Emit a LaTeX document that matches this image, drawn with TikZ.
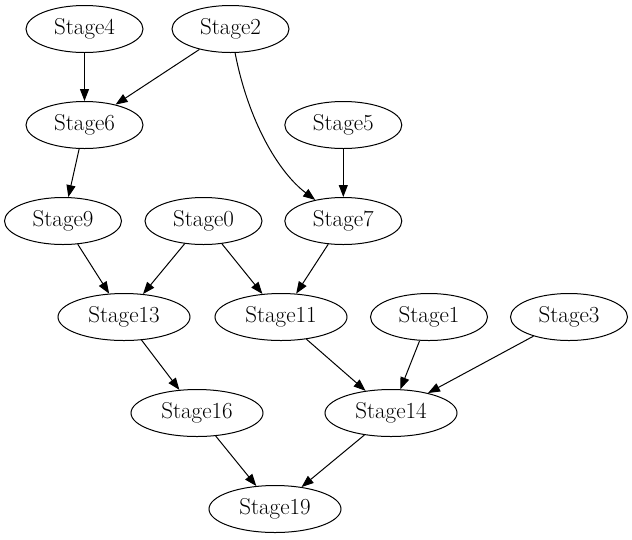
\documentclass[tikz,border=0pt]{standalone}
\usetikzlibrary{shapes.geometric,arrows.meta}
\begin{document}
\begin{tikzpicture}[x=1pt,y=-1pt,
  stagenode/.style={draw,ellipse,line width=1pt,inner sep=0pt,minimum width=117pt,minimum height=47pt,font=\fontsize{23}{26}\selectfont},
  widenode/.style={stagenode,minimum width=132pt},
  edge/.style={line width=1pt,-{Triangle[length=12pt,width=9pt]}}]
\useasboundingbox (0,0) rectangle (632,539);
\node[stagenode] (s4) at (84.5,29) {Stage4};
\node[stagenode] (s2) at (230.5,29) {Stage2};
\node[stagenode] (s6) at (84.5,125) {Stage6};
\node[stagenode] (s5) at (343.3,125) {Stage5};
\node[stagenode] (s9) at (63,221) {Stage9};
\node[stagenode] (s0) at (203.5,221) {Stage0};
\node[stagenode] (s7) at (343.3,221) {Stage7};
\node[widenode] (s13) at (124,317) {Stage13};
\node[widenode] (s11) at (281,317) {Stage11};
\node[stagenode] (s1) at (429,317) {Stage1};
\node[stagenode] (s3) at (569,317) {Stage3};
\node[widenode] (s16) at (197,413) {Stage16};
\node[widenode] (s14) at (391,413) {Stage14};
\node[widenode] (s19) at (275,509) {Stage19};
\draw[edge] (s4) -- (s6);
\draw[edge] (s2) -- (s6);
\draw[edge] (s2) .. controls (248,120) and (278,172) .. (s7);
\draw[edge] (s5) -- (s7);
\draw[edge] (s6) -- (s9);
\draw[edge] (s9) -- (s13);
\draw[edge] (s0) -- (s13);
\draw[edge] (s0) -- (s11);
\draw[edge] (s7) -- (s11);
\draw[edge] (s13) -- (s16);
\draw[edge] (s11) -- (s14);
\draw[edge] (s1) -- (s14);
\draw[edge] (s3) -- (s14);
\draw[edge] (s16) -- (s19);
\draw[edge] (s14) -- (s19);
\end{tikzpicture}
\end{document}
